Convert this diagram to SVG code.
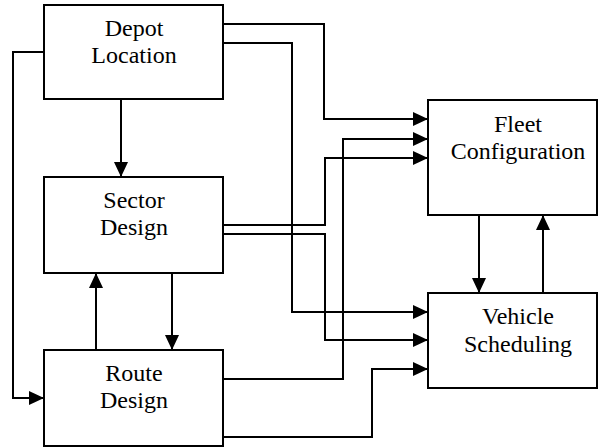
<svg xmlns="http://www.w3.org/2000/svg" width="598" height="448" viewBox="0 0 598 448">
<style>
.box{fill:#fff;stroke:#000;stroke-width:2}
.lbl{font-family:'Times New Roman',Times,'Liberation Serif','Noto Serif','DejaVu Serif',Tinos,serif;font-size:24px;fill:#000;text-anchor:middle}
.c{fill:none;stroke:#000;stroke-width:2;marker-end:url(#ah)}
</style>
<defs>
<marker id="ah" markerUnits="userSpaceOnUse" markerWidth="15" markerHeight="14" refX="15" refY="7" orient="auto">
<path d="M0,0 L15,7 L0,14 z" fill="#000"/>
</marker>
</defs>
<g id="connectors">
<path class="c" d="M44,52 H13 V398 H44"/>
<path class="c" d="M121,99 V177"/>
<path class="c" d="M223,24 H324 V119 H428"/>
<path class="c" d="M223,43 H292 V312 H428"/>
<path class="c" d="M223,225 H325 V158 H428"/>
<path class="c" d="M223,234 H325 V340 H428"/>
<path class="c" d="M223,379 H343 V139 H428"/>
<path class="c" d="M223,437 H372 V369 H428"/>
<path class="c" d="M96,350 V273"/>
<path class="c" d="M172,273 V350"/>
<path class="c" d="M479,215 V293"/>
<path class="c" d="M543,293 V215"/>
</g>
<g id="depot">
<rect class="box" x="44" y="5" width="179" height="94"/>
<text class="lbl" x="134" y="36">Depot</text>
<text class="lbl" x="134" y="63">Location</text>
</g>
<g id="sector">
<rect class="box" x="44" y="177" width="179" height="96"/>
<text class="lbl" x="134" y="208">Sector</text>
<text class="lbl" x="134" y="235">Design</text>
</g>
<g id="route">
<rect class="box" x="44" y="350" width="179" height="96"/>
<text class="lbl" x="134" y="381">Route</text>
<text class="lbl" x="134" y="408">Design</text>
</g>
<g id="fleet">
<rect class="box" x="428" y="100" width="169" height="115"/>
<text class="lbl" x="518" y="132">Fleet</text>
<text class="lbl" x="518" y="159">Configuration</text>
</g>
<g id="vehicle">
<rect class="box" x="428" y="293" width="169" height="95"/>
<text class="lbl" x="518" y="324">Vehicle</text>
<text class="lbl" x="518" y="352">Scheduling</text>
</g>
</svg>
